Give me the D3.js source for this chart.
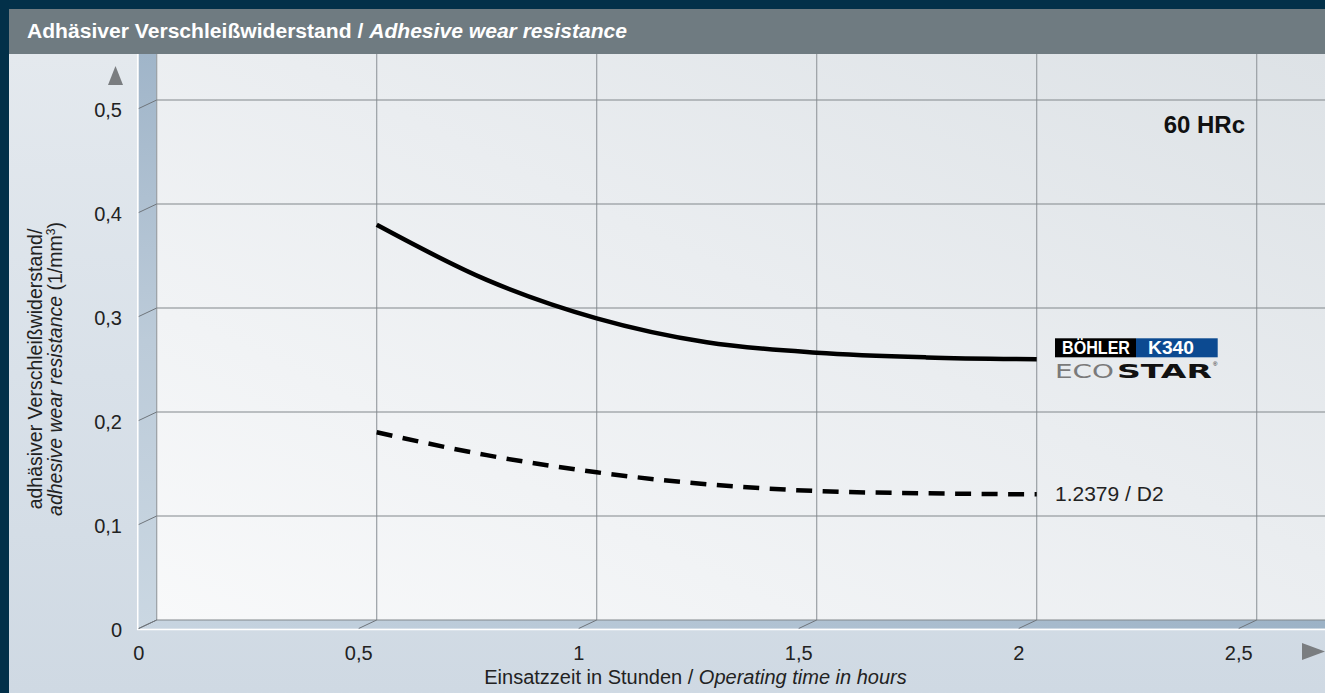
<!DOCTYPE html>
<html><head><meta charset="utf-8">
<script src="https://cdn.jsdelivr.net/npm/d3@7"></script>
<style>html,body{margin:0;padding:0;background:#023049;}svg{display:block;}</style>
</head><body>
<script>
// ---- data ----
const hours = [0.5, 0.75, 1.0, 1.25, 1.5, 1.75, 2.0];
const k340  = [0.380, 0.327, 0.290, 0.267, 0.257, 0.2525, 0.2507];
const d2    = [0.1805, 0.1585, 0.142, 0.1305, 0.124, 0.1218, 0.1208];
const xTicks = [0, 0.5, 1, 1.5, 2, 2.5];
const yTicks = [0, 0.1, 0.2, 0.3, 0.4, 0.5];
const fmt = v => String(v).replace('.', ',');

const W = 1325, H = 693;
const FONT = "'Liberation Sans', Arial, Helvetica, sans-serif";
const svg = d3.select('body').append('svg').attr('width', W).attr('height', H)
  .style('font-family', FONT);

const x = d3.scaleLinear().domain([0, 2.5]).range([156.7, 1256.7]);
const y = d3.scaleLinear().domain([0, 0.5]).range([620, 100]);
const dx = -18, dy = 8.5; // depth offset (front edge)
const topY = 54, rightX = W;

const defs = svg.append('defs');
function lg(id, x1, y1, x2, y2, stops) {
  const g = defs.append('linearGradient').attr('id', id)
    .attr('x1', x1).attr('y1', y1).attr('x2', x2).attr('y2', y2);
  stops.forEach(s => g.append('stop').attr('offset', s[0]).attr('stop-color', s[1]));
}
lg('bodyG', 0, 0, 0, 1, [[0, '#e4e9ee'], [0.5, '#d9e1e9'], [1, '#cfd9e3']]);
lg('panelG', 1, 0, 0, 1, [[0, '#dde2e6'], [0.45, '#eaedf0'], [1, '#f8f9fa']]);
lg('wallG', 0, 0, 0, 1, [[0, '#a0b5c9'], [0.5, '#bccbd9'], [1, '#cad7e2']]);
lg('floorG', 0, 0, 1, 0, [[0, '#c8d5e1'], [1, '#9cb2c6']]);

// outer frame
svg.append('rect').attr('width', W).attr('height', H).attr('fill', '#023049');
svg.append('rect').attr('x', 9).attr('y', topY).attr('width', W - 9).attr('height', H - topY).attr('fill', 'url(#bodyG)');
// header
svg.append('rect').attr('x', 9).attr('y', 9).attr('width', W - 9).attr('height', topY - 9).attr('fill', '#6f7b81');
const ht = svg.append('text').attr('x', 27).attr('y', 38).attr('fill', '#fff')
  .attr('font-size', 19.5).attr('font-weight', 'bold')
  .attr('textLength', 600).attr('lengthAdjust', 'spacingAndGlyphs');
ht.append('tspan').text('Adhäsiver Verschleißwiderstand / ');
ht.append('tspan').attr('font-style', 'italic').text('Adhesive wear resistance');

// back panel
svg.append('rect').attr('x', x(0)).attr('y', topY).attr('width', rightX - x(0)).attr('height', y(0) - topY)
  .attr('fill', 'url(#panelG)');
// left wall
svg.append('path').attr('fill', 'url(#wallG)')
  .attr('d', `M${x(0) + dx},${topY} L${x(0)},${topY} L${x(0)},${y(0)} L${x(0) + dx},${y(0) + dy} Z`);
// floor
svg.append('path').attr('fill', 'url(#floorG)')
  .attr('d', `M${x(0)},${y(0)} L${rightX},${y(0)} L${rightX},${y(0) + dy} L${x(0) + dx},${y(0) + dy} Z`);
// white front edges
svg.append('line').attr('x1', x(0) + dx - 1).attr('x2', x(0) + dx - 1).attr('y1', topY).attr('y2', y(0) + dy + 1.5)
  .attr('stroke', '#fff').attr('stroke-width', 1.5);
svg.append('line').attr('x1', x(0) + dx - 1.5).attr('x2', rightX).attr('y1', y(0) + dy + 1).attr('y2', y(0) + dy + 1)
  .attr('stroke', '#fff').attr('stroke-width', 1.5);

// grid
const grid = svg.append('g');
grid.selectAll('.vg').data(xTicks).join('line')
  .attr('x1', d => x(d)).attr('x2', d => x(d)).attr('y1', topY).attr('y2', y(0))
  .attr('stroke', '#9a9fa4').attr('stroke-width', 1.2);
grid.selectAll('.hg').data(yTicks).join('line')
  .attr('x1', x(0)).attr('x2', rightX).attr('y1', d => y(d)).attr('y2', d => y(d))
  .attr('stroke', '#82878c').attr('stroke-width', 1.2);
// depth ticks
grid.selectAll('.yd').data(yTicks).join('line')
  .attr('x1', x(0)).attr('y1', d => y(d)).attr('x2', x(0) + dx).attr('y2', d => y(d) + dy)
  .attr('stroke', '#6f757b').attr('stroke-width', 1);
grid.selectAll('.xd').data(xTicks).join('line')
  .attr('x1', d => x(d)).attr('y1', y(0)).attr('x2', d => x(d) + dx).attr('y2', y(0) + dy)
  .attr('stroke', '#6f757b').attr('stroke-width', 1);

// tick labels
svg.selectAll('.yl').data(yTicks).join('text')
  .attr('x', 122).attr('y', d => y(d) + dy + 8.5).attr('text-anchor', 'end')
  .attr('font-size', 20).attr('fill', '#222').text(d => fmt(d));
svg.selectAll('.xl').data(xTicks).join('text')
  .attr('x', d => x(d) + dx).attr('y', 660).attr('text-anchor', 'middle')
  .attr('font-size', 20).attr('fill', '#222').text(d => fmt(d));

// arrows
svg.append('path').attr('fill', '#7a7d80').attr('d', 'M115.5,66 L123,85 L108,85 Z');
svg.append('path').attr('fill', '#7a7d80').attr('d', 'M1302,643 L1325,651.5 L1302,660 Z');

// axis titles
const yt = svg.append('text').attr('transform', 'translate(42,369) rotate(-90)')
  .attr('text-anchor', 'middle').attr('font-size', 19.5).attr('fill', '#222');
yt.append('tspan').attr('x', 0).attr('dy', 0).text('adhäsiver Verschleißwiderstand/');
const l2 = yt.append('tspan').attr('x', 0).attr('dy', 20);
l2.append('tspan').attr('font-style', 'italic').text('adhesive wear resistance');
l2.append('tspan').text(' (1/mm');
l2.append('tspan').attr('font-size', 12).attr('dy', -7).text('3');
l2.append('tspan').attr('dy', 7).text(')');

const xt = svg.append('text').attr('x', 695.5).attr('y', 684).attr('text-anchor', 'middle')
  .attr('font-size', 20).attr('fill', '#222');
xt.append('tspan').text('Einsatzzeit in Stunden / ');
xt.append('tspan').attr('font-style', 'italic').text('Operating time in hours');

// 60 HRc
svg.append('text').attr('x', 1245).attr('y', 133).attr('text-anchor', 'end')
  .attr('font-size', 24).attr('font-weight', 'bold').attr('fill', '#111').text('60 HRc');

// curves
const line = d3.line().x(d => x(d[0])).y(d => y(d[1])).curve(d3.curveMonotoneX);
svg.append('path').datum(hours.map((h, i) => [h, k340[i]])).attr('d', line)
  .attr('fill', 'none').attr('stroke', '#000').attr('stroke-width', 4.5);
svg.append('path').datum(hours.map((h, i) => [h, d2[i]])).attr('d', line)
  .attr('fill', 'none').attr('stroke', '#000').attr('stroke-width', 4.5)
  .attr('stroke-dasharray', '16,10.5');

// legend: K340 logo
const lx = 1055, ly = 338.3;
svg.append('rect').attr('x', lx).attr('y', ly).attr('width', 81).attr('height', 19).attr('fill', '#000');
svg.append('rect').attr('x', lx + 81).attr('y', ly).attr('width', 81.7).attr('height', 19).attr('fill', '#0c4a91');
svg.append('text').attr('x', lx + 7).attr('y', ly + 15.5).attr('font-size', 18).attr('font-weight', 'bold')
  .attr('fill', '#fff').attr('textLength', 68).attr('lengthAdjust', 'spacingAndGlyphs').text('BÖHLER');
svg.append('text').attr('x', lx + 93).attr('y', ly + 15.5).attr('font-size', 18).attr('font-weight', 'bold')
  .attr('fill', '#fff').attr('textLength', 46).attr('lengthAdjust', 'spacingAndGlyphs').text('K340');
svg.append('text').attr('x', lx).attr('y', 377.7).attr('font-size', 19).attr('font-family', "'DejaVu Sans', sans-serif")
  .attr('fill', '#7a7a7a').attr('textLength', 59).attr('lengthAdjust', 'spacingAndGlyphs').text('ECO');
svg.append('text').attr('x', lx + 62).attr('y', 377.7).attr('font-size', 19).attr('font-family', "'DejaVu Sans', sans-serif")
  .attr('font-weight', 'bold').attr('fill', '#111').attr('textLength', 95).attr('lengthAdjust', 'spacingAndGlyphs').text('STAR');
svg.append('text').attr('x', lx + 158).attr('y', 366).attr('font-size', 6).attr('fill', '#111').text('®');

// legend: D2
svg.append('text').attr('x', 1055).attr('y', 501).attr('font-size', 21).attr('fill', '#222').text('1.2379 / D2');
</script>
</body></html>
